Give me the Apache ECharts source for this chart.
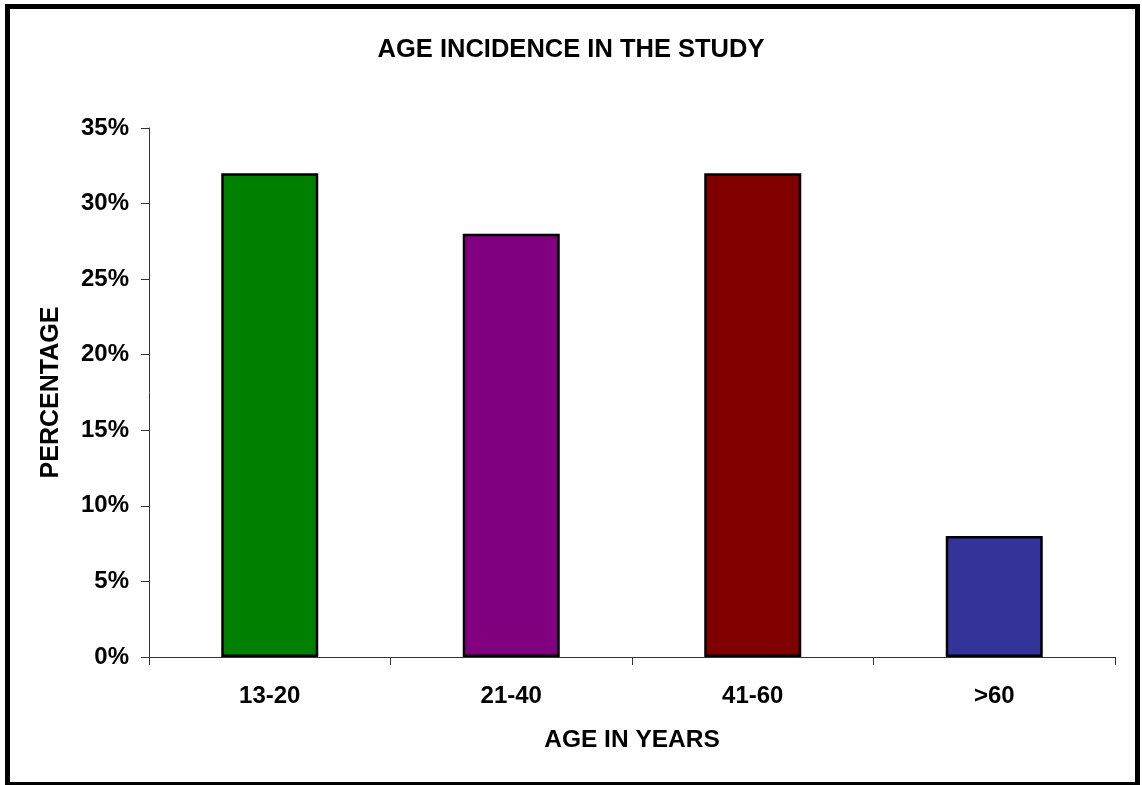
<!DOCTYPE html>
<html>
<head>
<meta charset="utf-8">
<script src="https://cdn.jsdelivr.net/npm/echarts@6/dist/echarts.min.js"></script>
<style>
html,body{margin:0;padding:0;background:#fff;}
#chart{width:1142px;height:785px;}
</style>
</head>
<body>
<div id="chart"></div>
<script>
const categories = ['13-20', '21-40', '41-60', '>60'];
const values = [32, 28, 32, 8];
const barColors = ['#008000', '#800080', '#800000', '#333399'];
const yTicks = { min: 0, max: 35, interval: 5 };

const FONT = '"Liberation Sans", Arial, sans-serif';
const chart = echarts.init(document.getElementById('chart'), null, { renderer: 'canvas' });
chart.setOption({
  backgroundColor: '#ffffff',
  animation: false,
  title: {
    text: 'AGE INCIDENCE IN THE STUDY',
    left: 'center',
    top: 32,
    textStyle: { fontFamily: FONT, fontWeight: 'bold', fontSize: 25.5, color: '#000' }
  },
  graphic: [{
    type: 'rect',
    shape: { x: 7.5, y: 6.5, width: 1130, height: 778 },
    style: { fill: 'none', stroke: '#000', lineWidth: 5 },
    silent: true
  }],
  grid: { left: 149, right: 27, top: 128, bottom: 128 },
  xAxis: {
    type: 'category',
    data: categories,
    name: 'AGE IN YEARS',
    nameLocation: 'middle',
    nameGap: 71,
    nameTextStyle: { fontFamily: FONT, fontWeight: 'bold', fontSize: 24.5, color: '#000' },
    axisLine: { lineStyle: { color: '#333', width: 1 } },
    axisTick: { show: true, length: 8, lineStyle: { color: '#333' } },
    axisLabel: { margin: 27, fontFamily: FONT, fontWeight: 'bold', fontSize: 24, color: '#000' },
    splitLine: { show: false }
  },
  yAxis: {
    type: 'value',
    min: yTicks.min,
    max: yTicks.max,
    interval: yTicks.interval,
    name: 'PERCENTAGE',
    nameLocation: 'middle',
    nameGap: 85,
    nameRotate: 90,
    nameTextStyle: { fontFamily: FONT, fontWeight: 'bold', fontSize: 25, color: '#000' },
    axisLine: { show: true, lineStyle: { color: '#333', width: 1 } },
    axisTick: { show: true, length: 8, lineStyle: { color: '#333' } },
    axisLabel: { margin: 20, formatter: '{value}%', fontFamily: FONT, fontWeight: 'bold', fontSize: 24, color: '#000' },
    splitLine: { show: false }
  },
  series: [{
    type: 'bar',
    barWidth: 97,
    data: values.map((v, i) => ({
      value: v,
      itemStyle: { color: barColors[i], borderColor: '#000', borderWidth: 2.5 }
    }))
  }]
});
</script>
</body>
</html>
